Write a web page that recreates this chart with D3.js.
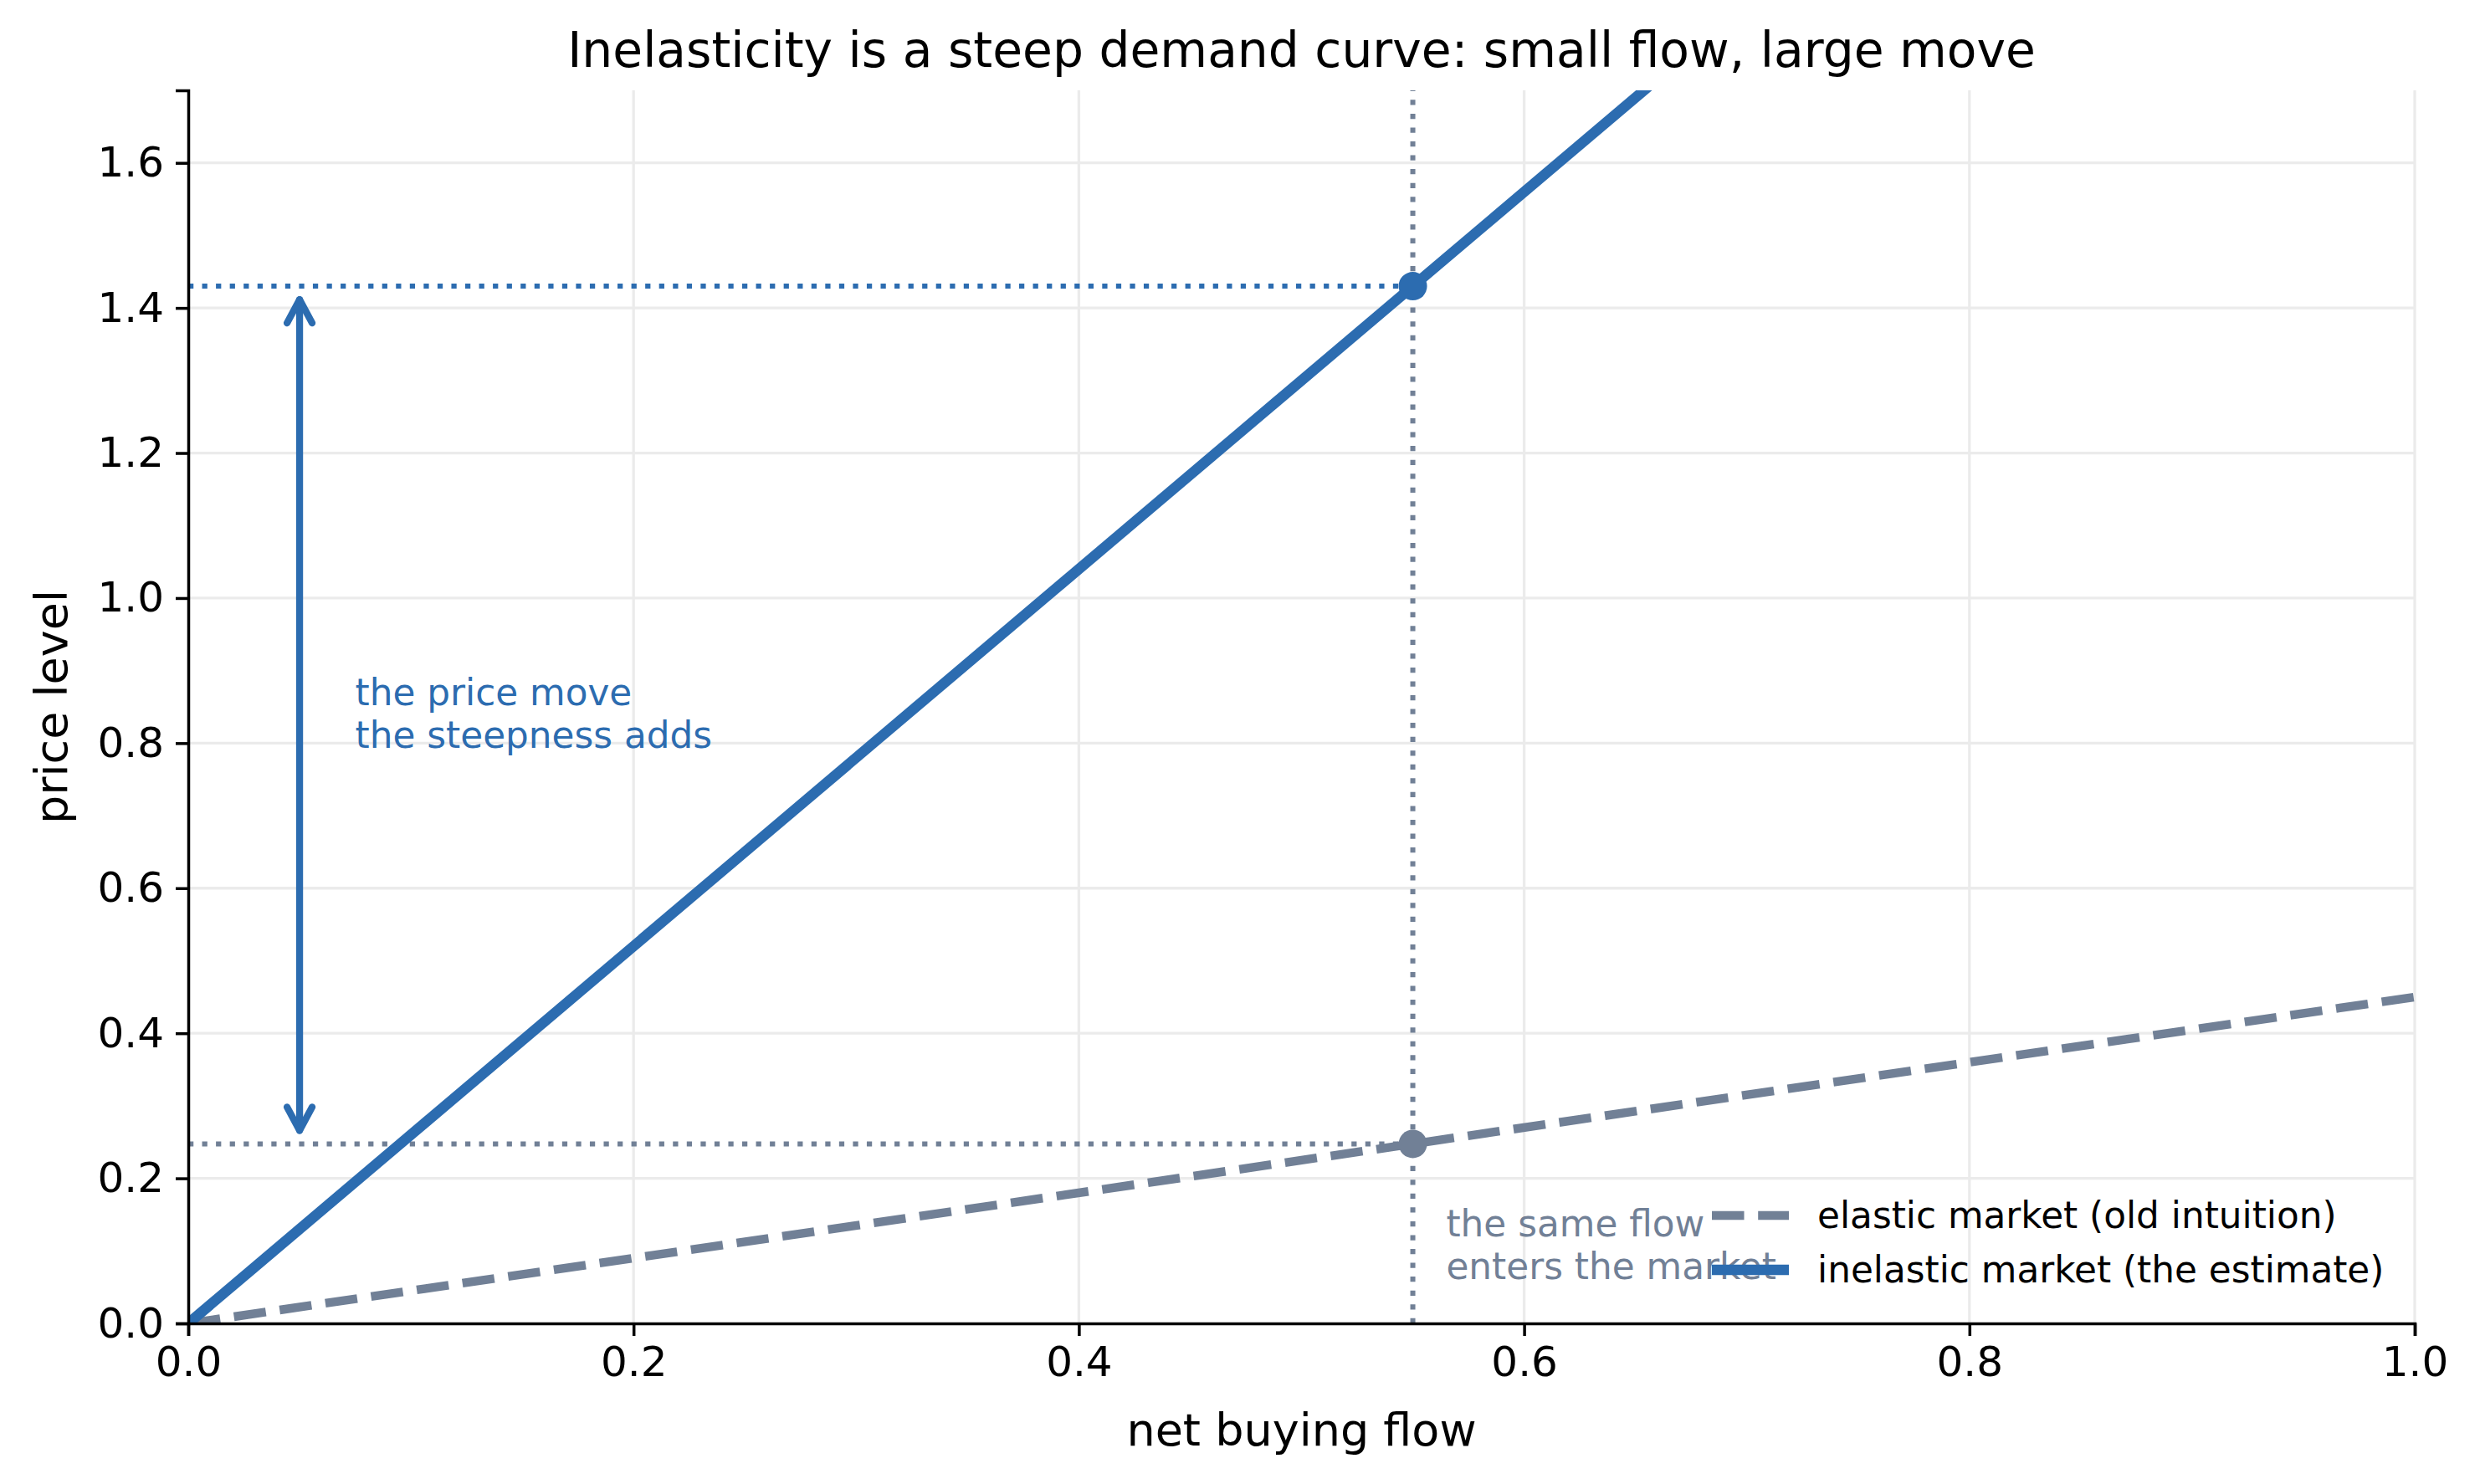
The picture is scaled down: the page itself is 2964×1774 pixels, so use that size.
<!DOCTYPE html>
<html>
<head>
<meta charset="utf-8">
<script src="https://cdn.jsdelivr.net/npm/d3@7"></script>
<style>
  body { margin: 0; background: #fff; }
  svg { display: block; font-family: "DejaVu Sans", sans-serif; }
</style>
</head>
<body>
<svg id="chart" width="2964" height="1774"></svg>
<script>
// ---- data ----
const xTicks = [0.0, 0.2, 0.4, 0.6, 0.8, 1.0];
const yTicks = [0.0, 0.2, 0.4, 0.6, 0.8, 1.0, 1.2, 1.4, 1.6];
const elasticFlow = [0.0, 1.0];
const elasticPrice = [0.0, 0.45];
const inelasticFlow = [0.0, 1.0];
const inelasticPrice = [0.0, 2.6];
const sameFlow = 0.55;
const priceElastic = 0.2475;
const priceInelastic = 1.43;
const arrowFlow = 0.05;
const seriesNames = ["elastic market (old intuition)", "inelastic market (the estimate)"];
const titleText = "Inelasticity is a steep demand curve: small flow, large move";
const xLabel = "net buying flow";
const yLabel = "price level";
const noteMove = ["the price move", "the steepness adds"];
const noteFlow = ["the same flow", "enters the market"];
const noteMovePos = [0.075, 0.8];
const noteFlowPos = [0.565, 0.1];

// ---- layout ----
const BLUE = "#2c6cb0", GREY = "#718096";
const L = 225, R = 2886, T = 108, B = 1582;
const svg = d3.select("#chart");
const x = d3.scaleLinear().domain([0, 1]).range([L, R]);
const y = d3.scaleLinear().domain([0, 1.7]).range([B, T]);

svg.append("defs").append("clipPath").attr("id", "clip")
  .append("rect").attr("x", L).attr("y", T).attr("width", R - L).attr("height", B - T);

// grid
const grid = svg.append("g");
grid.selectAll(".gx").data(xTicks.slice(1)).join("line")
  .attr("x1", d => x(d)).attr("x2", d => x(d)).attr("y1", T).attr("y2", B)
  .attr("stroke", "#ebebeb").attr("stroke-width", 3.3);
grid.selectAll(".gy").data(yTicks.slice(1)).join("line")
  .attr("x1", L).attr("x2", R).attr("y1", d => y(d)).attr("y2", d => y(d))
  .attr("stroke", "#ebebeb").attr("stroke-width", 3.3);

const plot = svg.append("g").attr("clip-path", "url(#clip)");

// reference dotted lines
const dot = "6.25,10.3";
plot.append("line").attr("x1", x(sameFlow)).attr("x2", x(sameFlow)).attr("y1", y(0)).attr("y2", y(1.7))
  .attr("stroke", GREY).attr("stroke-width", 6).attr("stroke-dasharray", dot);
plot.append("line").attr("x1", x(0)).attr("x2", x(sameFlow)).attr("y1", y(priceInelastic)).attr("y2", y(priceInelastic))
  .attr("stroke", BLUE).attr("stroke-width", 6).attr("stroke-dasharray", dot);
plot.append("line").attr("x1", x(0)).attr("x2", x(sameFlow)).attr("y1", y(priceElastic)).attr("y2", y(priceElastic))
  .attr("stroke", GREY).attr("stroke-width", 6).attr("stroke-dasharray", dot);

// lines
const line = d3.line().x(d => x(d[0])).y(d => y(d[1]));
plot.append("path").datum(elasticFlow.map((f, i) => [f, elasticPrice[i]]))
  .attr("d", line).attr("fill", "none").attr("stroke", GREY).attr("stroke-width", 10.4)
  .attr("stroke-dasharray", "38.5,16.7");
plot.append("path").datum(inelasticFlow.map((f, i) => [f, inelasticPrice[i]]))
  .attr("d", line).attr("fill", "none").attr("stroke", BLUE).attr("stroke-width", 12.5);

// points
svg.append("circle").attr("cx", x(sameFlow)).attr("cy", y(priceInelastic)).attr("r", 17).attr("fill", BLUE);
svg.append("circle").attr("cx", x(sameFlow)).attr("cy", y(priceElastic)).attr("r", 17).attr("fill", GREY);

// double arrow
const ax = x(arrowFlow), shrink = 16, hl = 28, hw = 15;
const yTop = y(priceInelastic) + shrink, yBot = y(priceElastic) - shrink;
const arr = svg.append("g").attr("stroke", BLUE).attr("stroke-width", 8.3).attr("fill", "none")
  .attr("stroke-linecap", "round").attr("stroke-linejoin", "round");
arr.append("line").attr("x1", ax).attr("x2", ax).attr("y1", yTop).attr("y2", yBot);
arr.append("path").attr("d", `M${ax - hw},${yTop + hl} L${ax},${yTop} L${ax + hw},${yTop + hl}`);
arr.append("path").attr("d", `M${ax - hw},${yBot - hl} L${ax},${yBot} L${ax + hw},${yBot - hl}`);

// annotations
const t1 = svg.append("text").attr("fill", BLUE).attr("font-size", 43.75);
noteMove.forEach((s, i) => t1.append("tspan").attr("x", x(noteMovePos[0])).attr("y", y(noteMovePos[1]) - 45 + i * 51).text(s));
const t2 = svg.append("text").attr("fill", GREY).attr("font-size", 43.75);
noteFlow.forEach((s, i) => t2.append("tspan").attr("x", x(noteFlowPos[0])).attr("y", y(noteFlowPos[1]) - 17 + i * 51).text(s));

// axes
const xAxis = svg.append("g").attr("transform", `translate(0,${B})`)
  .call(d3.axisBottom(x).tickValues(xTicks).tickFormat(d3.format(".1f")).tickSize(15).tickPadding(12));
const yAxis = svg.append("g").attr("transform", `translate(${L},0)`)
  .call(d3.axisLeft(y).tickValues(yTicks).tickFormat(d3.format(".1f")).tickSize(15).tickPadding(14));
[xAxis, yAxis].forEach(g => {
  g.select(".domain").attr("stroke", "#000").attr("stroke-width", 3.5);
  g.selectAll(".tick line").attr("stroke", "#000").attr("stroke-width", 3.5);
  g.selectAll(".tick text").attr("font-size", 50).attr("fill", "#000").attr("font-family", "DejaVu Sans");
});
xAxis.selectAll(".tick text").attr("dy", "0.71em");

// axis labels & title
svg.append("text").attr("x", (L + R) / 2).attr("y", 1728).attr("text-anchor", "middle")
  .attr("font-size", 54).text(xLabel);
svg.append("text").attr("transform", `translate(80,${(T + B) / 2}) rotate(-90)`).attr("text-anchor", "middle")
  .attr("font-size", 54).text(yLabel);
svg.append("text").attr("x", (L + R) / 2).attr("y", 80).attr("text-anchor", "middle")
  .attr("font-size", 58.3).text(titleText);

// legend
const lg = svg.append("g");
const lx0 = 2046, lx1 = 2138, ly = [1453, 1518];
lg.append("line").attr("x1", lx0).attr("x2", lx1).attr("y1", ly[0]).attr("y2", ly[0])
  .attr("stroke", GREY).attr("stroke-width", 10.4).attr("stroke-dasharray", "38.5,16.7");
lg.append("line").attr("x1", lx0).attr("x2", lx1).attr("y1", ly[1]).attr("y2", ly[1])
  .attr("stroke", BLUE).attr("stroke-width", 12.5);
seriesNames.forEach((s, i) => lg.append("text").attr("x", 2172).attr("y", ly[i] + 15)
  .attr("font-size", 43.75).attr("fill", "#000").text(s));
</script>
</body>
</html>
